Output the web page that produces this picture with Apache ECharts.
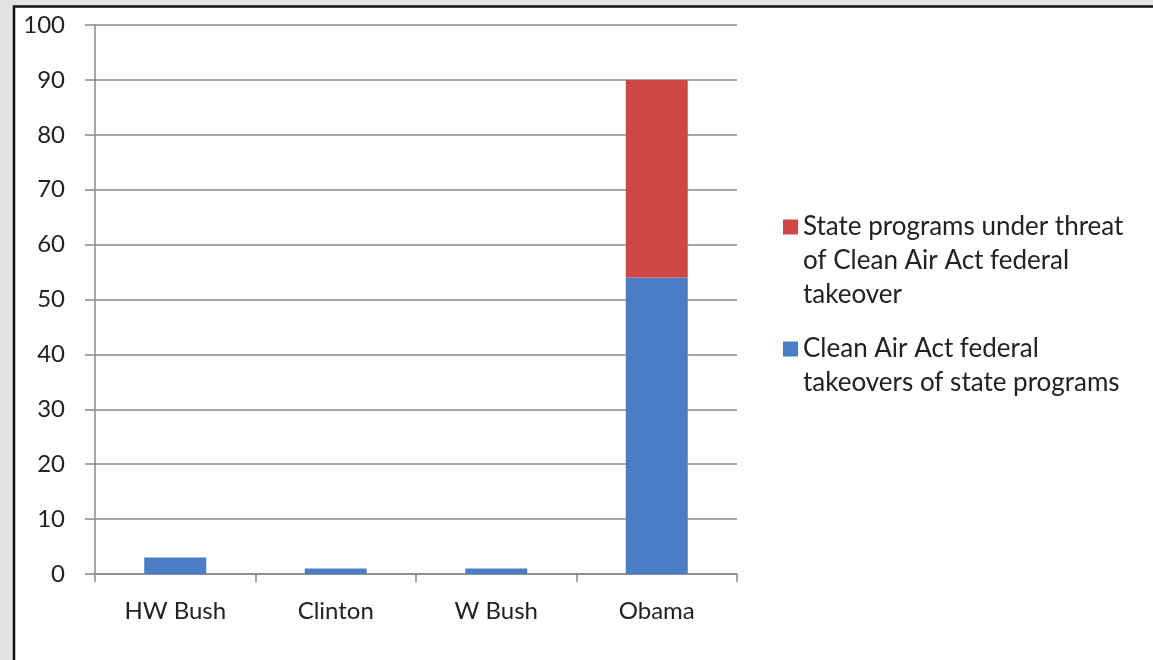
<!DOCTYPE html>
<html>
<head>
<meta charset="utf-8">
<script src="https://cdn.jsdelivr.net/npm/echarts@6/dist/echarts.min.js"></script>
<style>
html,body{margin:0;padding:0;background:#e3e3e3;}
#c{width:1153px;height:660px;}
</style>
</head>
<body>
<div id="c"></div>
<script>
var categories = ['HW Bush', 'Clinton', 'W Bush', 'Obama'];
var takeovers = [3, 1, 1, 54];
var threatened = [0, 0, 0, 36];
var seriesNames = ['Clean Air Act federal\ntakeovers of state programs', 'State programs under threat\nof Clean Air Act federal\ntakeover'];
var yTicks = [0, 100, 10];

var FONT = 'Lato';
var chart = echarts.init(document.getElementById('c'));
chart.setOption({
  animation: false,
  backgroundColor: '#e3e3e3',
  graphic: [{
    type: 'rect', z: -10, silent: true,
    shape: {x: 14, y: 6.5, width: 1200, height: 700},
    style: {fill: '#ffffff', stroke: '#111111', lineWidth: 2.5}
  }],
  grid: {left: 95, right: 416, top: 25, bottom: 86, containLabel: false},
  xAxis: {
    type: 'category', data: categories,
    axisLine: {lineStyle: {color: '#888888', width: 1.5}},
    axisTick: {show: true, length: 8, lineStyle: {color: '#888888', width: 1.5}},
    axisLabel: {margin: 25, fontFamily: FONT, fontSize: 24, color: '#222'}
  },
  yAxis: {
    type: 'value', min: yTicks[0], max: yTicks[1], interval: yTicks[2],
    axisLine: {show: true, lineStyle: {color: '#888888', width: 1.5}},
    axisTick: {show: true, length: 10, lineStyle: {color: '#888888', width: 1.5}},
    splitLine: {lineStyle: {color: '#888888', width: 1.5}},
    axisLabel: {margin: 30, fontFamily: FONT, fontSize: 24, color: '#222'}
  },
  legend: {
    orient: 'vertical', left: 778, top: 137, itemGap: -14,
    itemWidth: 15, itemHeight: 15, icon: 'rect',
    textStyle: {fontFamily: FONT, fontSize: 26, color: '#222', lineHeight: 34},
    formatter: function (name) {
      var n = name.split('\n').length;
      return new Array(n).join('\n') + name;
    },
    data: [seriesNames[1], seriesNames[0]]
  },
  series: [
    {name: seriesNames[0], type: 'bar', stack: 's', data: takeovers, barWidth: 62,
     itemStyle: {color: '#4a7dc4'}},
    {name: seriesNames[1], type: 'bar', stack: 's', data: threatened, barWidth: 62,
     itemStyle: {color: '#cf4744'}}
  ]
});
</script>
</body>
</html>
